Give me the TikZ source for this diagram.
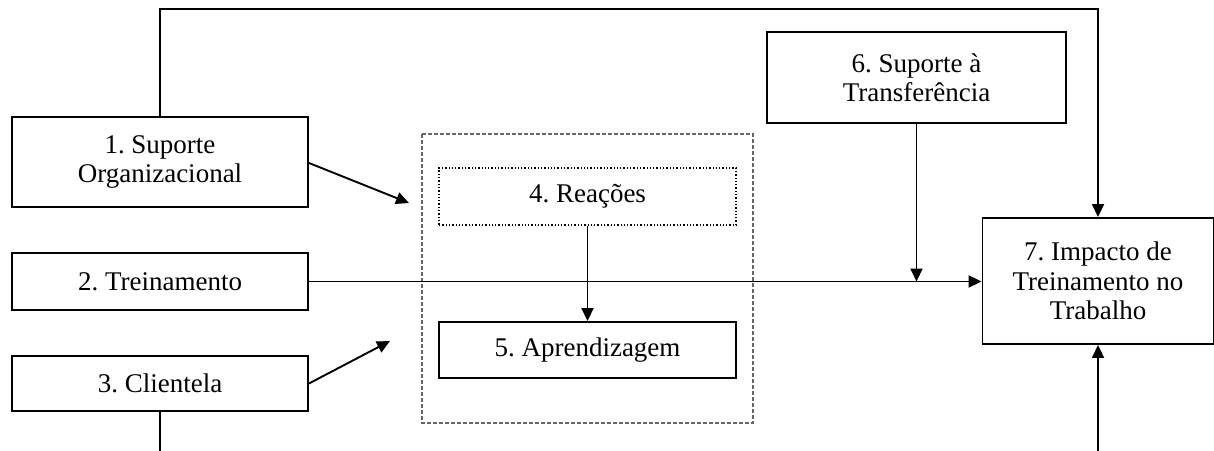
\documentclass[tikz,border=0pt]{standalone}
\usepackage{fontspec}
\setmainfont{Liberation Serif}
\frenchspacing
\usetikzlibrary{arrows.meta}
\begin{document}
\begin{tikzpicture}[x=1pt,y=-1pt,
  every node/.style={font=\fontsize{27}{29.5}\selectfont, align=center, inner sep=0pt},
  box/.style={draw, line width=1.9pt},
  dotbox/.style={draw, line width=1.3pt, dotted},
  grp/.style={draw=black!60, line width=1.2pt, dash pattern=on 4pt off 2pt},
  conn/.style={line width=1.9pt},
  arr/.style={conn, -{Triangle[length=13pt,width=12pt]}}]
\useasboundingbox (0,0) rectangle (1214,450);
\draw[grp] (422,134) rectangle (753,423);
\node[box, minimum width=296pt, minimum height=90pt] (n1) at (160,162) {1. Suporte\\Organizacional};
\node[box, minimum width=296pt, minimum height=57pt] (n2) at (160,281.5) {2. Treinamento};
\node[box, minimum width=296pt, minimum height=55pt] (n3) at (160,383.5) {3. Clientela};
\node[dotbox, minimum width=297pt, minimum height=57pt] (n4) at (587.5,196.5) {4. Reações};
\node[box, minimum width=297pt, minimum height=56pt] (n5) at (587.5,350) {5. Aprendizagem};
\node[box, minimum width=299pt, minimum height=91pt] (n6) at (916.5,77.5) {6. Suporte à\\Transferência};
\node[box, minimum width=231pt, minimum height=126pt] (n7) at (1098,281) {7. Impacto de\\Treinamento no\\Trabalho};
\coordinate (c1) at (409,203);
\coordinate (c3) at (390,341);
\coordinate (top) at (160,9);
\coordinate (mid) at (916.5,281.5);
\coordinate (b3) at (160,452);
\coordinate (b7) at (1098,452);
\draw[arr] (n1.north) -- (top) -| (n7.north);
\draw[arr] (n2.east) -- (n2.east -| n7.west);
\draw[arr] (n6.south) -- (mid);
\draw[arr] (n4.south) -- (n5.north);
\draw[arr] (n1.east |- 0,163) -- (c1);
\draw[arr] (n3.east) -- (c3);
\draw[conn] (n3.south) -- (b3);
\draw[arr] (b7) -- (n7.south);
\end{tikzpicture}
\end{document}
